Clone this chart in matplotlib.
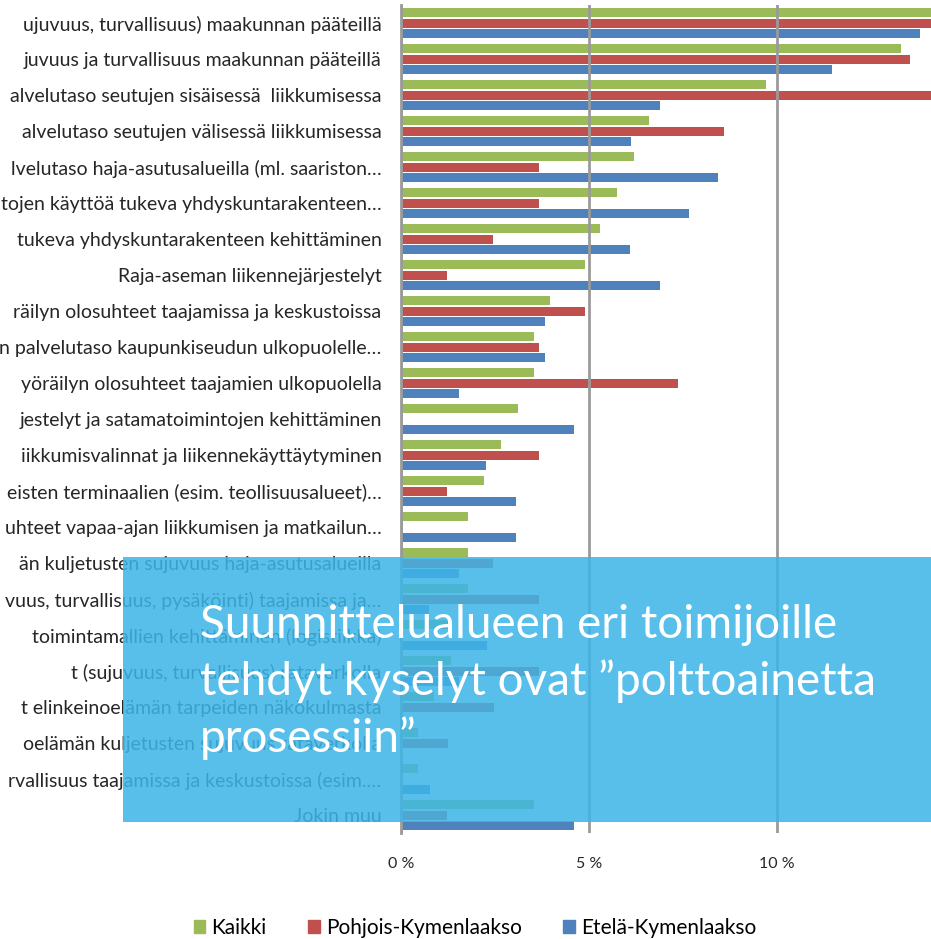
import numpy as np
import matplotlib
matplotlib.use("Agg")
import matplotlib.pyplot as plt
from matplotlib.patches import Rectangle, Patch

# labels as they show in the cropped screenshot (left part cut off)
categories = [
    "ujuvuus, turvallisuus) maakunnan pääteillä",
    "juvuus ja turvallisuus maakunnan pääteillä",
    "alvelutaso seutujen sisäisessä  liikkumisessa",
    "alvelutaso seutujen välisessä liikkumisessa",
    "lvelutaso haja-asutusalueilla (ml. saariston…",
    "tojen käyttöä tukeva yhdyskuntarakenteen…",
    "tukeva yhdyskuntarakenteen kehittäminen",
    "Raja-aseman liikennejärjestelyt",
    "räilyn olosuhteet taajamissa ja keskustoissa",
    "n palvelutaso kaupunkiseudun ulkopuolelle…",
    "yöräilyn olosuhteet taajamien ulkopuolella",
    "jestelyt ja satamatoimintojen kehittäminen",
    "iikkumisvalinnat ja liikennekäyttäytyminen",
    "eisten terminaalien (esim. teollisuusalueet)…",
    "uhteet vapaa-ajan liikkumisen ja matkailun…",
    "än kuljetusten sujuvuus haja-asutusalueilla",
    "vuus, turvallisuus, pysäköinti) taajamissa ja…",
    "toimintamallien kehittäminen (logistiikka)",
    "t (sujuvuus, turvallisuus) rataverkolla",
    "t elinkeinoelämän tarpeiden näkökulmasta",
    "oelämän kuljetusten sujuvuus rataverkolla",
    "rvallisuus taajamissa ja keskustoissa (esim.…",
    "Jokin muu",
]

kaikki = [14.6, 13.3, 9.7, 6.6, 6.2, 5.75, 5.3, 4.9, 3.97, 3.55, 3.55, 3.1,
          2.65, 2.2, 1.77, 1.77, 1.77, 1.3, 1.33, 0.89, 0.46, 0.46, 3.55]
pohjois = [14.6, 13.55, 14.5, 8.6, 3.67, 3.67, 2.45, 1.22, 4.9, 3.67, 7.37, 0.0,
           3.67, 1.22, 0.0, 2.45, 3.67, 0.0, 3.67, 2.47, 1.24, 0.0, 1.22]
etela = [13.8, 11.47, 6.9, 6.11, 8.44, 7.65, 6.1, 6.9, 3.82, 3.82, 1.53, 4.6,
         2.27, 3.06, 3.06, 1.53, 0.75, 2.28, 1.53, 0.0, 0.0, 0.77, 4.59]

series_names = ["Kaikki", "Pohjois-Kymenlaakso", "Etelä-Kymenlaakso"]
colors = ["#9BBB59", "#C0504D", "#4F81BD"]
xticks = [0, 5, 10]
xticklabels = ["0 %", "5 %", "10 %"]

overlay_lines = [
    "Suunnittelualueen eri toimijoille",
    "tehdyt kyselyt ovat \u201dpolttoainetta",
    "prosessiin\u201d",
]

FONT = ["Lato", "DejaVu Sans"]
W, H = 931, 939
fig = plt.figure(figsize=(W / 100, H / 100), dpi=100)
ax = fig.add_axes([401 / W, 1 - 833 / H, 1 - 401 / W, (833 - 5) / H])

y = np.arange(len(categories))
off = 0.29
bh = 0.25
for vals, dy, c in zip([kaikki, pohjois, etela], [-off, 0, off], colors):
    ax.barh(y + dy, vals, height=bh, color=c, zorder=2)

ax.set_ylim(len(categories) - 0.5, -0.5)
ax.set_xlim(0, 14.1)
ax.set_yticks(y)
ax.set_yticklabels(categories, fontsize=14, family=FONT, color="#262626")
ax.set_xticks(xticks)
ax.set_xticklabels(xticklabels, fontsize=11.5, family=FONT, color="#262626")
ax.tick_params(axis="y", length=0, pad=14)
ax.tick_params(axis="x", length=0, pad=17)
ax.xaxis.grid(True, color="#9a9a9a", lw=2, zorder=3)
ax.set_axisbelow(False)
for s in ["top", "right", "bottom"]:
    ax.spines[s].set_visible(False)
ax.spines["left"].set_color("#9a9a9a")
ax.spines["left"].set_linewidth(2)

# legend under the plot
handles = [Patch(color=c, label=n) for c, n in zip(colors, series_names)]
fig.legend(handles=handles, loc="center", bbox_to_anchor=(475 / W, 1 - 928 / H),
           ncol=3, frameon=False, handlelength=0.55, handleheight=0.55,
           handletextpad=0.3, columnspacing=2.0,
           prop={"family": FONT, "size": 15})

# semi-transparent blue box with the slide text
box = Rectangle((123 / W, 1 - 822 / H), (W - 123) / W, (822 - 557) / H,
                transform=fig.transFigure, facecolor="#3DB5E8", alpha=0.86,
                edgecolor="none", zorder=5)
fig.add_artist(box)
for i, line in enumerate(overlay_lines):
    fig.text(200 / W, 1 - (638 + 57 * i) / H, line, color="white", fontsize=33,
             family=FONT, fontweight="normal", va="baseline", zorder=6)

fig.savefig("out.png", dpi=100)
